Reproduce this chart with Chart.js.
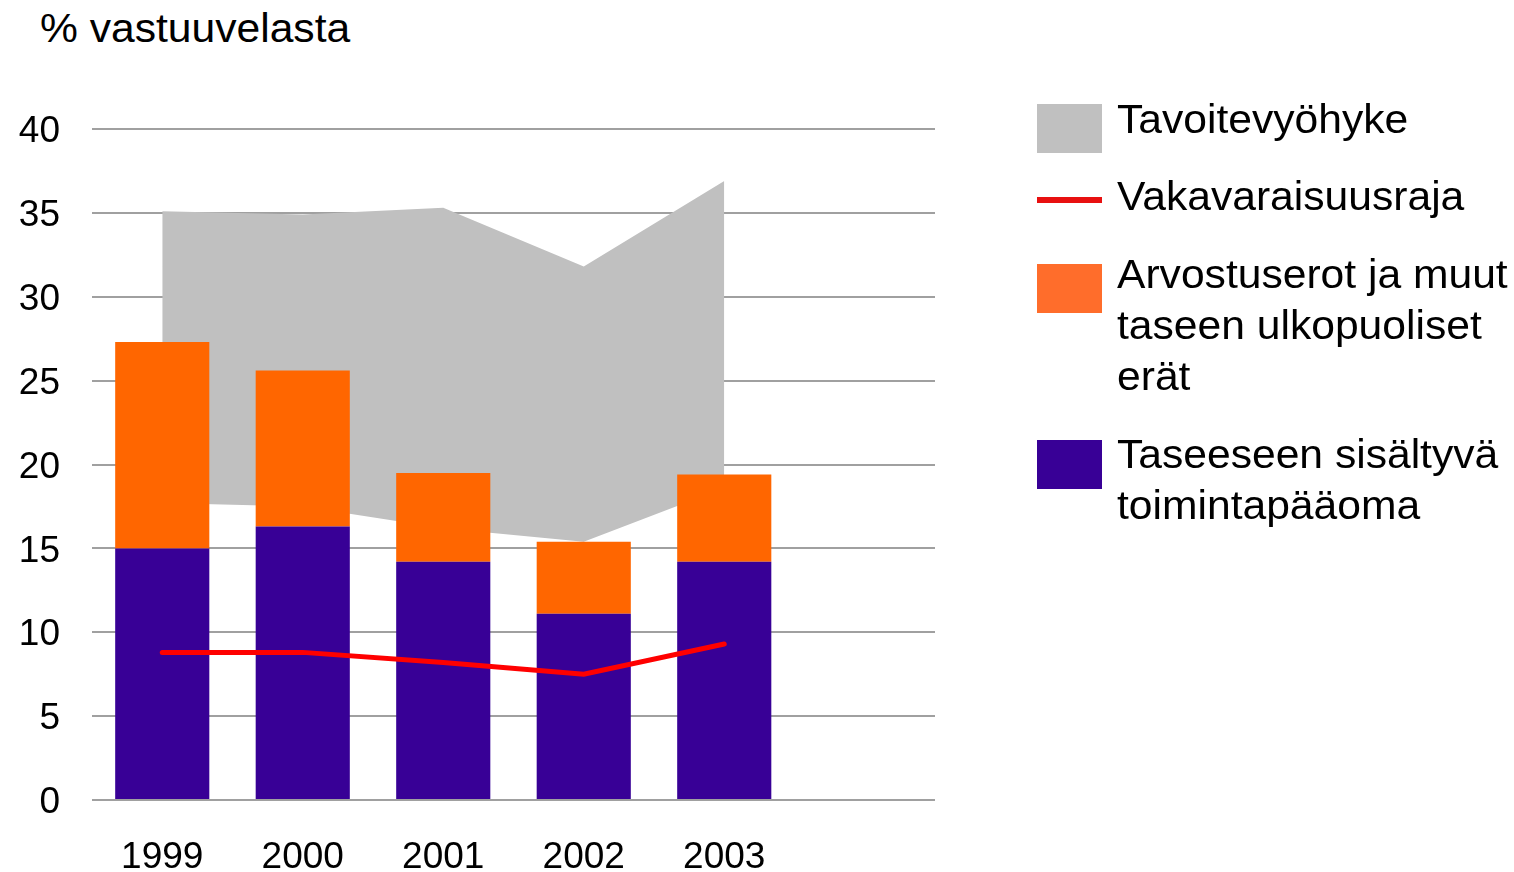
<!DOCTYPE html>
<html lang="fi">
<head>
<meta charset="utf-8">
<title>Vakavaraisuus</title>
<script src="https://cdn.jsdelivr.net/npm/chart.js@4.4.1/dist/chart.umd.min.js"></script>
<style>
    html, body { margin: 0; padding: 0; background: #fff; }
    body {
        width: 1514px; height: 872px; position: relative; overflow: hidden;
        font-family: "Liberation Sans", Arial, sans-serif; color: #000;
    }
    #chart { position: absolute; left: 0; top: 0; }
    .txt {
        position: absolute; font-size: 40px; line-height: 51px; white-space: nowrap;
        transform: scaleX(1.065); transform-origin: left top;
    }
    .key { position: absolute; left: 1037px; width: 65px; }
</style>
</head>
<body>
<div class="txt" style="left:40px; top:3px;">% vastuuvelasta</div>
<canvas id="chart" width="1514" height="872"></canvas>

<!-- Legend -->
<div class="key" style="top:104px; height:49px; background:#c0c0c0;"></div>
<div class="txt" style="left:1117px; top:94px;">Tavoitevyöhyke</div>
<div class="key" style="top:197px; height:6px; background:#e81010;"></div>
<div class="txt" style="left:1117px; top:171px;">Vakavaraisuusraja</div>
<div class="key" style="top:264px; height:49px; background:#ff6d2b;"></div>
<div class="txt" style="left:1117px; top:249px;">Arvostuserot ja muut<br>taseen ulkopuoliset<br>erät</div>
<div class="key" style="top:440px; height:49px; background:#380096;"></div>
<div class="txt" style="left:1117px; top:429px;">Taseeseen sisältyvä<br>toimintapääoma</div>

<script>
// values, % of technical provisions
const years = ['1999', '2000', '2001', '2002', '2003'];
const targetLow = [17.7, 17.5, 16.2, 15.4, 18.6];
const targetHigh = [35.1, 34.9, 35.3, 31.8, 36.9];
const solvencyLimit = [8.8, 8.8, 8.2, 7.5, 9.3];
const valuationDiffs = [12.3, 9.3, 5.3, 4.3, 5.2];
const balanceCapital = [15.0, 16.3, 14.2, 11.1, 14.2];
const yTicks = [0, 5, 10, 15, 20, 25, 30, 35, 40];

// one empty slot on the right, as in the original
const labels = [...years, ''];

const font = { family: '"Liberation Sans", Arial, sans-serif', size: 37 };

new Chart(document.getElementById('chart'), {
    type: 'bar',
    data: {
        labels: labels,
        datasets: [
            {
                type: 'line',
                label: 'low',
                data: targetLow,
                stack: 'low',
                borderWidth: 0,
                pointRadius: 0,
                fill: false,
                order: 3
            },
            {
                type: 'line',
                label: 'Tavoitevyöhyke',
                data: targetHigh,
                stack: 'high',
                borderWidth: 0,
                pointRadius: 0,
                backgroundColor: '#c0c0c0',
                fill: '-1',
                order: 3
            },
            {
                label: 'Taseeseen sisältyvä toimintapääoma',
                data: balanceCapital,
                stack: 'bars',
                backgroundColor: '#380096',
                barPercentage: 0.67,
                categoryPercentage: 1,
                order: 2
            },
            {
                label: 'Arvostuserot ja muut taseen ulkopuoliset erät',
                data: valuationDiffs,
                stack: 'bars',
                backgroundColor: '#ff6600',
                barPercentage: 0.67,
                categoryPercentage: 1,
                order: 2
            },
            {
                type: 'line',
                label: 'Vakavaraisuusraja',
                data: solvencyLimit,
                stack: 'limit',
                borderColor: '#ff0000',
                borderWidth: 5,
                borderCapStyle: 'round',
                pointRadius: 0,
                fill: false,
                tension: 0,
                order: 1
            }
        ]
    },
    options: {
        responsive: false,
        animation: false,
        layout: { padding: { top: 129, right: 579, bottom: 0, left: 0 } },
        plugins: {
            legend: { display: false },
            tooltip: { enabled: false }
        },
        scales: {
            x: {
                stacked: true,
                grid: { display: false },
                border: { display: false },
                ticks: { color: '#000', font: font, padding: 28, maxRotation: 0 },
                afterFit: (scale) => { scale.height = 72; }
            },
            y: {
                stacked: true,
                min: 0,
                max: 40,
                afterBuildTicks: (scale) => { scale.ticks = yTicks.map(v => ({ value: v })); },
                grid: { color: '#a0a0a0', lineWidth: 2, drawTicks: false },
                border: { display: false },
                ticks: { color: '#000', font: font, padding: 32, labelOffset: 3 },
                afterFit: (scale) => { scale.width = 92; }
            }
        }
    }
});
</script>
</body>
</html>
